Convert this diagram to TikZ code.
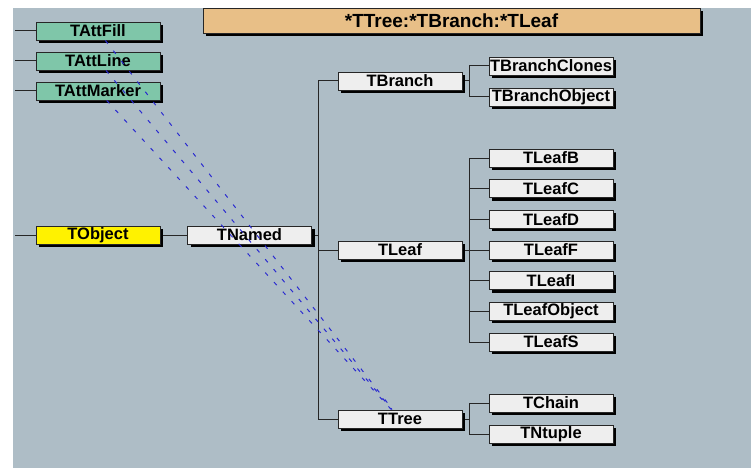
\documentclass[tikz,border=0pt]{standalone}
\usepackage{fontspec}
\setmainfont{Liberation Sans}
\usetikzlibrary{shadows, backgrounds}

\definecolor{canvas}{HTML}{AEBDC6}
\definecolor{titlefill}{HTML}{E8BF87}
\definecolor{attfill}{HTML}{7FC6A9}
\definecolor{plainfill}{HTML}{EEEEEE}
\definecolor{inhblue}{HTML}{2A2AD0}

\begin{document}
\begin{tikzpicture}[x=1pt, y=-1pt,
    cls/.style={draw=black!85, line width=0.9pt, fill=plainfill, minimum width=124pt, minimum height=18pt,
        inner sep=0pt, text=black, font=\fontsize{16.5}{17}\selectfont\bfseries,
        drop shadow={shadow xshift=3pt, shadow yshift=-3pt, opacity=1, fill=black}},
    att/.style={cls, fill=attfill},
    wire/.style={draw=black!85, line width=1pt},
    inh/.style={draw=inhblue, line width=1pt, dash pattern=on 4pt off 9pt}]

    \useasboundingbox (0,0) rectangle (751,468);

    % title bar, cut off at the top
    \begin{scope}
        \clip (0,8.5) rectangle (751,468);
        \node[cls, fill=titlefill, minimum width=497pt, minimum height=25pt,
            font=\fontsize{19}{20}\selectfont\bfseries] (title) at (451.5, 20.5) {*TTree:*TBranch:*TLeaf};
    \end{scope}

    % classes
    \node[att] (tattfill) at (98, 31) {TAttFill};
    \node[att] (tattline) at (98, 61) {TAttLine};
    \node[att] (tattmarker) at (98, 91) {TAttMarker};
    \node[cls, fill=yellow] (tobject) at (98, 235) {TObject};
    \node[cls] (tnamed) at (249.5, 235) {TNamed};

    \node[cls] (tbranch) at (400, 81) {TBranch};
    \node[cls] (tleaf) at (400, 250) {TLeaf};
    \node[cls] (ttree) at (400, 419) {TTree};

    \node[cls] (tbranchclones) at (551, 66) {TBranchClones};
    \node[cls] (tbranchobject) at (551, 97) {TBranchObject};
    \foreach \leaf [count=\i from 0] in {B,C,D,F,I,Object,S} {
        \node[cls] (tleaf\leaf) at (551, 158 + 30.667*\i) {TLeaf\leaf};
    }
    \node[cls] (tchain) at (551, 403) {TChain};
    \node[cls] (tntuple) at (551, 434) {TNtuple};

    \begin{scope}[on background layer]
        \fill[canvas] (13,8) rectangle (751,468);

        \foreach \n in {tattfill, tattline, tattmarker, tobject} {
            \draw[wire] (\n.west) -- ++(-21,0);
        }
        \draw[wire] (tobject) -- (tnamed);

        \draw[wire] (tnamed.east) -- ++(7,0) coordinate (namedbus);
        \foreach \n in {tbranch, tleaf, ttree} {
            \draw[wire] (namedbus) |- (\n.west);
        }

        \draw[wire] (tbranch.east) -- ++(7,0) coordinate (branchbus);
        \foreach \n in {tbranchclones, tbranchobject} {
            \draw[wire] (branchbus) |- (\n.west);
        }

        \draw[wire] (tleaf.east) -- ++(7,0) coordinate (leafbus);
        \foreach \leaf in {B,C,D,F,I,Object,S} {
            \draw[wire] (leafbus) |- (tleaf\leaf.west);
        }

        \draw[wire] (ttree.east) -- ++(7,0) coordinate (treebus);
        \foreach \n in {tchain, tntuple} {
            \draw[wire] (treebus) |- (\n.west);
        }
    \end{scope}

    % TTree also inherits the attribute classes
    \foreach \n in {tattfill, tattline, tattmarker} {
        \draw[inh] (\n) -- (ttree);
    }
\end{tikzpicture}
\end{document}
